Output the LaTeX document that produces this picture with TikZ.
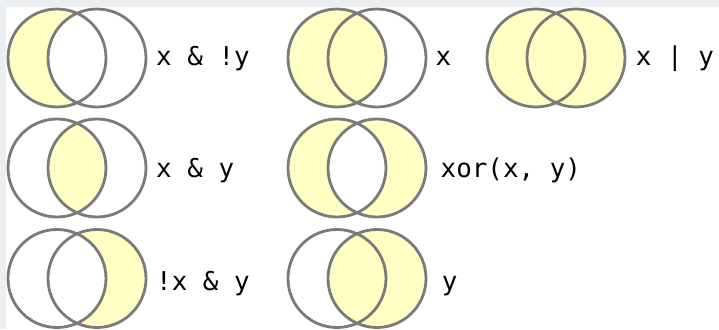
\documentclass[tikz,border=0pt]{standalone}
\usepackage{fontspec}
\setmonofont{DejaVu Sans Mono}
\definecolor{setfill}{RGB}{255,255,196}
\definecolor{setline}{RGB}{122,122,122}
\definecolor{pagebg}{RGB}{236,239,241}
\tikzset{
  setring/.style={draw=setline,line width=2.8pt},
  setpart/.style={fill=setfill},
  oplabel/.style={anchor=base west,inner sep=0pt,
    font=\ttfamily\fontsize{25.9}{30}\selectfont}
}
% left and right set of one diagram, given its centre
\newcommand{\lring}[2]{(#1-20,#2) circle[radius=49]}
\newcommand{\rring}[2]{(#1+20,#2) circle[radius=49]}
\newcommand{\vennrings}[2]{\draw[setring] \lring{#1}{#2} \rring{#1}{#2};}

\begin{document}
\begin{tikzpicture}[x=1pt,y=-1pt]
  \useasboundingbox (0,0) rectangle (719,329);
  \fill[pagebg] (0,0) rectangle (719,329);
  \fill[white] (6,7) rectangle (719,329);
  % x & !y
  \begin{scope}
    \clip \lring{77}{58};
    \fill[setpart,even odd rule] \lring{77}{58} \rring{77}{58};
  \end{scope}
  % x
  \fill[setpart] \lring{357}{58};
  % x | y
  \fill[setpart] \lring{556}{58} \rring{556}{58};
  % x & y
  \begin{scope}
    \clip \lring{77}{168};
    \fill[setpart] \rring{77}{168};
  \end{scope}
  % xor
  \fill[setpart,even odd rule] \lring{357}{168} \rring{357}{168};
  % !x & y
  \begin{scope}
    \clip \rring{77}{278.5};
    \fill[setpart,even odd rule] \lring{77}{278.5} \rring{77}{278.5};
  \end{scope}
  % y
  \fill[setpart] \rring{357}{278.5};
  % outlines
  \vennrings{77}{58}
  \vennrings{357}{58}
  \vennrings{556}{58}
  \vennrings{77}{168}
  \vennrings{357}{168}
  \vennrings{77}{278.5}
  \vennrings{357}{278.5}
  % labels
  \node[oplabel] (xandnoty) at (156,65) {x \& !y};
  \node[oplabel] (onlyx) at (435.5,65) {x};
  \node[oplabel] (xory) at (635.7,65) {x | y};
  \node[oplabel] (xandy) at (156,177) {x \& y};
  \node[oplabel] (xorxy) at (440.5,177) {xor(x, y)};
  \node[oplabel] (notxandy) at (156,290.5) {!x \& y};
  \node[oplabel] (onlyy) at (441.7,290.5) {y};
\end{tikzpicture}
\end{document}
